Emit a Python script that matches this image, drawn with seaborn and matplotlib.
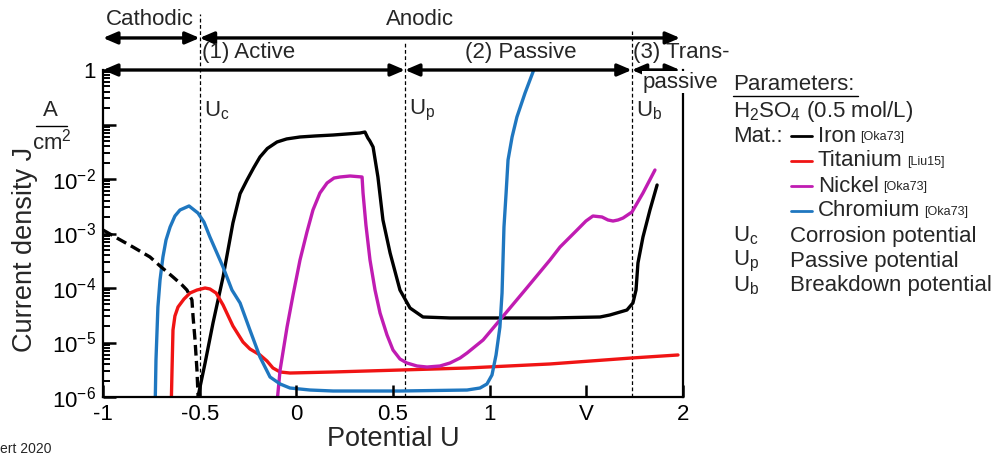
import numpy as np
import pandas as pd
import seaborn as sns
import matplotlib.pyplot as plt
from matplotlib.ticker import LogLocator, NullFormatter

# potential U [V] and log10 of current density J [A/cm^2]
iron_u = [-0.52, -0.509, -0.472, -0.431, -0.379, -0.328, -0.291, -0.255, -0.22, -0.188, -0.15, -0.100,
          -0.05, 0.019, 0.10, 0.190, 0.329, 0.355, 0.370, 0.380, 0.397, 0.422, 0.448, 0.485, 0.536,
          0.588, 0.655, 0.795, 1.053, 1.312, 1.571, 1.622, 1.710, 1.741, 1.757, 1.767, 1.793, 1.829, 1.866]
iron_logj = [-6.3, -6.0, -5.376, -4.642, -3.798, -2.807, -2.27, -2.018, -1.79, -1.596, -1.44, -1.321,
             -1.265, -1.229, -1.21, -1.193, -1.156, -1.138, -1.248, -1.30, -1.413, -1.963, -2.752, -3.358, -4.037,
             -4.367, -4.532, -4.550, -4.550, -4.550, -4.532, -4.495, -4.404, -4.275, -4.037, -3.541, -3.064,
             -2.569, -2.110]

iron_cath_u = [-1.0, -0.928, -0.845, -0.757, -0.705, -0.638, -0.591, -0.566, -0.540,
               -0.534, -0.524, -0.514, -0.509, -0.503]
iron_cath_logj = [-2.936, -3.083, -3.248, -3.431, -3.596, -3.798, -3.945, -4.037, -4.220,
                  -4.532, -4.954, -5.505, -5.927, -6.05]

titanium_u = [-0.648, -0.643, -0.638, -0.628, -0.612, -0.581, -0.550, -0.514, -0.472, -0.447,
              -0.415, -0.379, -0.328, -0.276, -0.240, -0.214, -0.188, -0.152, -0.121, -0.084,
              -0.033, 0.190, 0.536, 0.883, 1.312, 1.736, 1.974]
titanium_logj = [-6.3, -5.505, -4.771, -4.514, -4.349, -4.202, -4.092, -4.037, -4.000, -4.018,
                 -4.092, -4.312, -4.697, -4.991, -5.119, -5.174, -5.229, -5.339, -5.468, -5.541,
                 -5.560, -5.541, -5.505, -5.468, -5.394, -5.284, -5.229]

nickel_u = [-0.105, -0.084, -0.048, -0.017, 0.019, 0.055, 0.086, 0.122, 0.159, 0.195, 0.226,
            0.278, 0.340, 0.345, 0.360, 0.381, 0.407, 0.433, 0.469, 0.500, 0.536, 0.572, 0.624,
            0.676, 0.743, 0.795, 0.847, 0.883, 0.966, 1.053, 1.183, 1.312, 1.364, 1.452, 1.498,
            1.534, 1.581, 1.612, 1.638, 1.664, 1.690, 1.736, 1.793, 1.855]
nickel_logj = [-6.3, -5.505, -4.716, -4.128, -3.486, -2.972, -2.569, -2.257, -2.073, -1.982, -1.963,
               -1.945, -1.963, -2.257, -2.844, -3.486, -4.037, -4.459, -4.862, -5.138, -5.303, -5.376, -5.431,
               -5.450, -5.431, -5.376, -5.284, -5.193, -4.954, -4.587, -4.037, -3.486, -3.248, -2.936, -2.771,
               -2.679, -2.697, -2.752, -2.771, -2.752, -2.716, -2.606, -2.257, -1.835]

chromium_u = [-0.731, -0.726, -0.716, -0.705, -0.690, -0.674, -0.653, -0.628, -0.602, -0.555,
              -0.509, -0.478, -0.447, -0.379, -0.333, -0.291, -0.240, -0.188, -0.136, -0.084,
              -0.033, 0.071, 0.190, 0.536, 0.883, 0.950, 0.986, 1.012, 1.033, 1.053, 1.064,
              1.069, 1.074, 1.085, 1.095, 1.116, 1.141, 1.183, 1.224, 1.240]
chromium_logj = [-6.3, -5.321, -4.349, -3.853, -3.431, -3.119, -2.881, -2.679, -2.569, -2.495,
                 -2.624, -2.789, -3.064, -3.615, -4.037, -4.275, -4.771, -5.266, -5.633, -5.761,
                 -5.835, -5.872, -5.890, -5.890, -5.872, -5.835, -5.761, -5.596, -5.229, -4.716, -4.092,
                 -3.486, -2.881, -2.257, -1.651, -1.229, -0.862, -0.422, -0.037, 0.128]

materials = ["Iron", "Titanium", "Nickel", "Chromium"]
refs = ["[Oka73]", "[Liu15]", "[Oka73]", "[Oka73]"]
colors = {"Iron": "#000000", "Titanium": "#f01414", "Nickel": "#c01cb2", "Chromium": "#1f77c0"}

u_c, u_p, u_b = -0.5, 0.562, 1.735
x_ticks = [-1, -0.5, 0, 0.5, 1, 1.5, 2]
x_ticklabels = ["-1", "-0.5", "0", "0.5", "1", "V", "2"]
y_ticks = [1, 1e-1, 1e-2, 1e-3, 1e-4, 1e-5, 1e-6]
y_ticklabels = ["1", "", r"$10^{-2}$", r"$10^{-3}$", r"$10^{-4}$", r"$10^{-5}$", r"$10^{-6}$"]

df = pd.concat([
    pd.DataFrame({"U": iron_u, "logJ": iron_logj, "Material": "Iron"}),
    pd.DataFrame({"U": titanium_u, "logJ": titanium_logj, "Material": "Titanium"}),
    pd.DataFrame({"U": nickel_u, "logJ": nickel_logj, "Material": "Nickel"}),
    pd.DataFrame({"U": chromium_u, "logJ": chromium_logj, "Material": "Chromium"}),
], ignore_index=True)
df["J"] = 10.0 ** df["logJ"]
cath = pd.DataFrame({"U": iron_cath_u, "J": 10.0 ** np.array(iron_cath_logj)})

sns.set_style("ticks")
plt.rcParams["font.family"] = ["Liberation Sans", "DejaVu Sans"]
plt.rcParams["mathtext.fontset"] = "custom"
plt.rcParams["mathtext.rm"] = "Liberation Sans"
plt.rcParams["mathtext.it"] = "Liberation Sans:italic"
plt.rcParams["mathtext.bf"] = "Liberation Sans:bold"
plt.rcParams.update({
    "xtick.direction": "in", "ytick.direction": "in",
    "ytick.minor.visible": True,
})
FS = 16

fig = plt.figure(figsize=(10.07, 4.54), dpi=100)
ax = fig.add_axes([103 / 1007, 57 / 454, 580 / 1007, 327 / 454])
ax.set_yscale("log")
ax.set_axisbelow(False)

sns.lineplot(data=df, x="U", y="J", hue="Material", hue_order=materials, palette=colors,
             estimator=None, sort=False, lw=2.4, legend=False, ax=ax, zorder=2)
sns.lineplot(data=cath, x="U", y="J", color="black", estimator=None, sort=False,
             lw=2.4, ax=ax, zorder=2, linestyle=(0, (3.2, 1.6)))

ax.set_xlim(-1, 2)
ax.set_ylim(1e-6, 1)
ax.set_xticks(x_ticks)
ax.set_xticklabels(x_ticklabels, fontsize=FS)
ax.set_yticks(y_ticks)
ax.set_yticklabels(y_ticklabels, fontsize=FS)
ax.yaxis.set_minor_locator(LogLocator(base=10, subs=np.arange(2, 10), numticks=20))
ax.yaxis.set_minor_formatter(NullFormatter())
ax.tick_params(which="major", length=9, width=1.8, colors="black", pad=5)
ax.tick_params(axis="y", which="minor", length=5, width=1.4, colors="black")
ax.tick_params(axis="x", which="minor", bottom=False)
for side in ["left", "bottom", "right"]:
    ax.spines[side].set_linewidth(1.6)
    ax.spines[side].set_color("black")
ax.spines["top"].set_visible(False)

ax.set_xlabel("Potential U", fontsize=19.5)
ax.set_ylabel("Current density J", fontsize=19.5)
ax.xaxis.set_label_coords(0.5, -0.09)
ax.yaxis.set_label_coords(-0.112, 0.45)

# unit in place of the 10^-1 tick label
ax.text(-0.091, 0.875, "A", transform=ax.transAxes, fontsize=FS, ha="center", va="center")
ax.plot([-0.115, -0.062], [0.83, 0.83], transform=ax.transAxes, color="black", lw=1, clip_on=False)
ax.text(-0.088, 0.782, "cm$^2$", transform=ax.transAxes, fontsize=FS, ha="center", va="center")

# potential markers
for xv, top, lab in [(u_c, 1.17, r"U$_\mathrm{c}$"), (u_p, 1.09, r"U$_\mathrm{p}$"), (u_b, 1.12, r"U$_\mathrm{b}$")]:
    ax.axvline(xv, ymin=0, ymax=top, color="black", lw=0.9, ls=(0, (3, 2)), clip_on=False, zorder=1.5)
    ax.text(xv + 0.02, 0.875, lab, transform=ax.get_xaxis_transform(), fontsize=FS, va="center")

# region arrows
xt = ax.get_xaxis_transform()


def harrow(x0, x1, y):
    ax.annotate("", xy=(x1, y), xytext=(x0, y), xycoords=xt, textcoords=xt,
                arrowprops=dict(arrowstyle="<|-|>,head_length=0.7,head_width=0.3", lw=2.4, color="black",
                                shrinkA=0, shrinkB=0, mutation_scale=12),
                annotation_clip=False)


harrow(-1, u_c, 1.098)
harrow(u_c, 1.985, 1.098)
harrow(-1, u_p, 1.0)
harrow(u_p, u_b, 1.0)
harrow(u_b, 1.985, 1.0)

ax.text(-0.757, 1.153, "Cathodic", transform=xt, fontsize=FS, ha="center", va="center")
ax.text(0.640, 1.153, "Anodic", transform=xt, fontsize=FS, ha="center", va="center")
ax.text(-0.49, 1.052, "(1) Active", transform=xt, fontsize=FS, ha="left", va="center")
ax.text(0.873, 1.052, "(2) Passive", transform=xt, fontsize=FS, ha="left", va="center")
ax.text(1.741, 1.052, "(3) Trans-", transform=xt, fontsize=FS, ha="left", va="center")
ax.text(1.793, 0.963, "passive", transform=xt, fontsize=FS, ha="left", va="center", zorder=10,
        bbox=dict(facecolor="white", edgecolor="none", pad=0.5), clip_on=False)


# parameter block on the right
def fpos(x, y):
    return x / 1007, 1 - y / 454


fig.text(*fpos(733, 85), "Parameters:", fontsize=FS, va="center")
fig.add_artist(plt.Line2D([733 / 1007, 858 / 1007], [1 - 96 / 454] * 2, color="black", lw=1))
fig.text(*fpos(733, 111), r"H$_2$SO$_4$ (0.5 mol/L)", fontsize=FS, va="center")
fig.text(*fpos(733, 136), "Mat.:", fontsize=FS, va="center")
rows = [136, 161, 186, 211]
for mat, ref, yy in zip(materials, refs, rows):
    fig.add_artist(plt.Line2D([791 / 1007, 812 / 1007], [1 - yy / 454] * 2, color=colors[mat], lw=2))
    t = fig.text(*fpos(818, yy), mat, fontsize=FS, va="center")
    plt.annotate(ref, xy=(1, 0.18), xycoords=t, xytext=(3, 0), textcoords="offset points",
                 fontsize=9, va="bottom", ha="left")
for sym, name, yy in [(r"U$_\mathrm{c}$", "Corrosion potential", 236),
                      (r"U$_\mathrm{p}$", "Passive potential", 261),
                      (r"U$_\mathrm{b}$", "Breakdown potential", 286)]:
    fig.text(*fpos(733, yy), sym, fontsize=FS, va="center")
    fig.text(*fpos(790, yy), name, fontsize=FS, va="center")

fig.text(*fpos(0, 449), "ert 2020", fontsize=10, va="center", ha="left")

fig.savefig("out.png", dpi=100)
